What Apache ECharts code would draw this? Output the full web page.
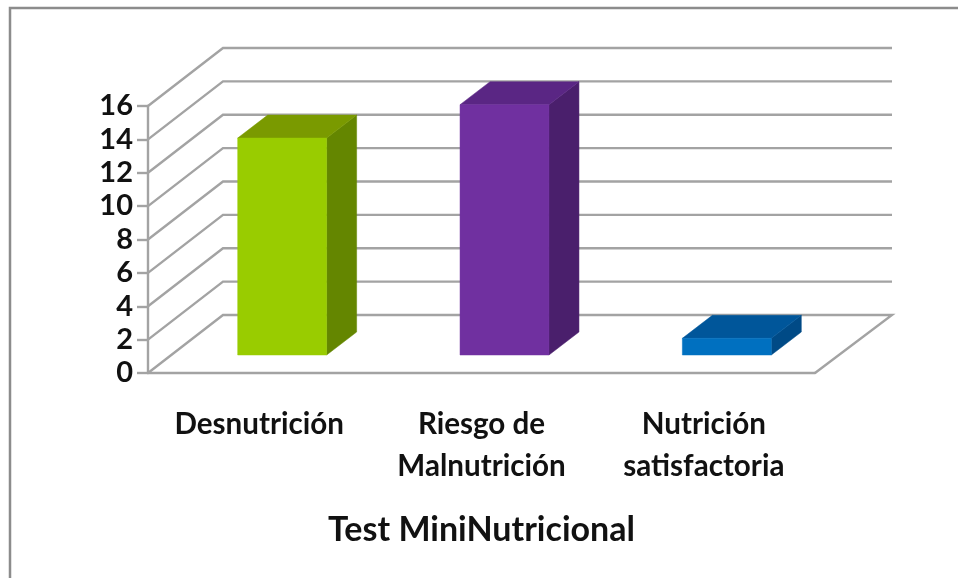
<!DOCTYPE html>
<html>
<head>
<meta charset="utf-8">
<style>html,body{margin:0;padding:0;background:#fff}#c{width:958px;height:578px}</style>
<script src="https://cdn.jsdelivr.net/npm/echarts@6/dist/echarts.min.js"></script>
</head>
<body>
<div id="c"></div>
<script>
const categories = ['Desnutrición', 'Riesgo de\nMalnutrición', 'Nutrición\nsatisfactoria'];
const values = [13, 15, 1];
const yTicks = [0, 2, 4, 6, 8, 10, 12, 14, 16];
const axisName = 'Test MiniNutricional';
const frontColors = ['#99cc00', '#7030a0', '#0070c0'];
const topColors = ['#7a9a00', '#5a2684', '#00569a'];
const sideColors = ['#648600', '#4a1f6c', '#004a86'];

const FONT = 'Lato';
const GRID = '#a3a3a3';
const WALL = { dx: 75, dy: -58 };
const FRONT = { dx: 23, dy: -18 };
const DEPTH = { dx: 30, dy: -23 };

const chart = echarts.init(document.getElementById('c'), null, { renderer: 'canvas' });

function renderWall(params, api) {
  const cs = params.coordSys;
  const v = api.value(1);
  const y = api.coord([0, v])[1];
  const x0 = cs.x, x1 = cs.x + cs.width;
  const pts = [[x0, y], [x0 + WALL.dx, y + WALL.dy], [x1 + WALL.dx + 2, y + WALL.dy]];
  if (v === 0) pts.push([x1, y]);
  return {
    type: 'polyline',
    shape: { points: pts },
    style: { stroke: GRID, lineWidth: 2.4, fill: null }
  };
}

function renderBar(params, api) {
  const i = api.value(0);
  const base = api.coord([i, 0]);
  const top = api.coord([i, api.value(1)]);
  const w = api.size([1, 0])[0] * 0.4;
  const xl = base[0] + FRONT.dx - w / 2, xr = xl + w;
  const yb = base[1] + FRONT.dy, yt = top[1] + FRONT.dy;
  const poly = (points, fill) => ({ type: 'polygon', shape: { points }, style: { fill, stroke: fill, lineWidth: 0.5 } });
  return {
    type: 'group',
    children: [
      poly([[xr, yt], [xr + DEPTH.dx, yt + DEPTH.dy], [xr + DEPTH.dx, yb + DEPTH.dy], [xr, yb]], sideColors[i]),
      poly([[xl, yt], [xl + DEPTH.dx, yt + DEPTH.dy], [xr + DEPTH.dx, yt + DEPTH.dy], [xr, yt]], topColors[i]),
      poly([[xl, yt], [xr, yt], [xr, yb], [xl, yb]], frontColors[i])
    ]
  };
}

chart.setOption({
  animation: false,
  backgroundColor: '#ffffff',
  textStyle: { fontFamily: FONT },
  graphic: [{
    type: 'polyline',
    silent: true,
    shape: { points: [[10, 578], [10, 8], [958, 8]] },
    style: { stroke: '#8c8c8c', lineWidth: 2.5, fill: null }
  }],
  grid: { left: 148, right: 143, top: 106, bottom: 205 },
  xAxis: {
    type: 'category',
    data: categories,
    axisTick: { show: false },
    axisLine: { show: true, onZero: false, lineStyle: { color: GRID, width: 2.4 } },
    axisLabel: { color: '#111', fontFamily: FONT, fontWeight: 'bold', fontSize: 29.6, lineHeight: 42, margin: 30, interval: 0 },
    name: axisName,
    nameLocation: 'middle',
    nameGap: 140,
    nameTextStyle: { color: '#111', fontFamily: FONT, fontWeight: 'bold', fontSize: 34 }
  },
  yAxis: {
    type: 'value',
    min: 0,
    max: 16,
    interval: 2,
    axisLine: { show: true, lineStyle: { color: GRID, width: 2.4 } },
    axisTick: { show: true, length: 11, lineStyle: { color: GRID, width: 2.4 } },
    splitLine: { show: false },
    axisLabel: { color: '#111', fontFamily: FONT, fontWeight: 'bold', fontSize: 29, margin: 15 }
  },
  series: [
    { type: 'custom', silent: true, clip: false, renderItem: renderWall, data: yTicks.map(t => [0, t]), z: 1 },
    { type: 'custom', silent: true, clip: false, renderItem: renderBar, data: values.map((v, i) => [i, v]), z: 2 }
  ]
});
</script>
</body>
</html>
